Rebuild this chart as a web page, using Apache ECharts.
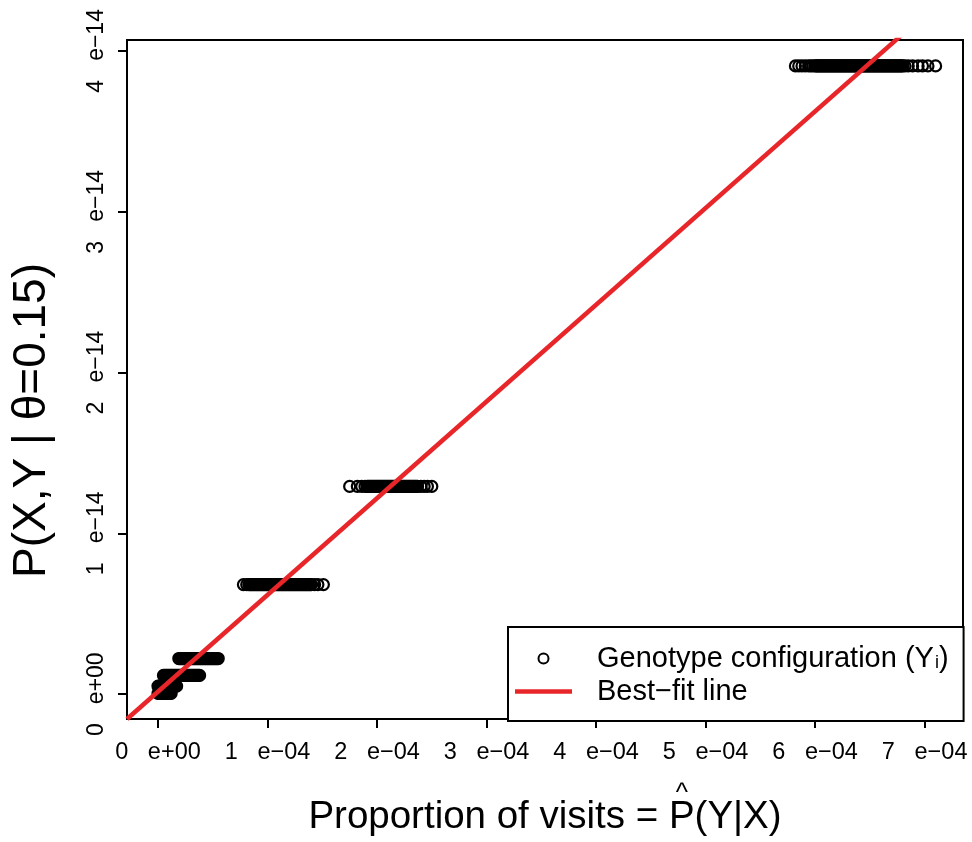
<!DOCTYPE html>
<html>
<head>
<meta charset="utf-8">
<script src="https://cdn.jsdelivr.net/npm/echarts@6/dist/echarts.min.js"></script>
<style>
  html, body { margin: 0; padding: 0; background: #fff; }
  #chart { width: 972px; height: 842px; }
</style>
</head>
<body>
<div id="chart"></div>
<script>
// Probability levels of the genotype configurations, in units of 1e-14
const levelsE14 = [3.907, 1.292, 0.682, 0.222, 0.117, 0.05, 0.005];

// Proportion of visits of each configuration at each level, in units of 1e-6
const visitsLevel1 = [582, 585, 588, 591, 594, 596, 598,
  600, 601, 602, 603, 604, 605, 606, 607, 608, 609, 610, 611, 612, 613, 614, 615, 616, 617, 618, 619,
  620, 621, 622, 623, 624, 625, 626, 627, 628, 629, 630, 631, 632, 633, 634, 635, 636, 637, 638, 639,
  640, 641, 642, 643, 644, 645, 646, 647, 648, 649, 650, 651, 652, 653, 654, 655, 656, 657, 658, 659,
  660, 661, 662, 663, 664, 665, 666, 667, 668, 669, 670, 671, 672, 673, 674, 675, 676, 677, 678, 679,
  680, 682, 685, 689, 694, 698, 703, 710];
const visitsLevel2 = [175, 182, 186, 189,
  191, 192, 193, 194, 195, 196, 197, 198, 199, 200, 201, 202, 203, 204, 205, 206, 207, 208, 209, 210,
  211, 212, 213, 214, 215, 216, 217, 218, 219, 220, 221, 222, 223, 224, 225, 226, 227, 228, 229, 230,
  231, 232, 233, 234, 235, 236, 237, 240, 243, 246, 250];
const visitsLevel3 = [78, 81,
  83, 84, 85, 86, 87, 88, 89, 90, 91, 92, 93, 94, 95, 96, 97, 98, 99, 100, 101, 102, 103, 104, 105,
  106, 107, 108, 109, 110, 111, 112, 113, 114, 115, 116, 117, 118, 119, 120, 121, 122, 123, 124, 125,
  126, 127, 128, 129, 130, 131, 132, 133, 134, 135, 136, 137, 138, 139, 140, 143, 146, 151];
const visitsLevel4 = [19, 20, 21, 22, 23, 24, 25, 26, 27, 28, 29, 30, 31, 32, 33, 34, 35, 36, 37, 38,
  39, 40, 41, 42, 43, 44, 45, 46, 47, 48, 49, 50, 51, 52, 53, 54, 55];
const visitsLevel5 = [5, 6, 7, 8, 9, 10, 11, 12, 13, 14, 15, 16, 17, 18, 19, 20, 21, 22, 23, 24, 25,
  26, 27, 28, 29, 30, 31, 32, 33, 34, 35, 36, 37, 38];
const visitsLevel6 = [0, 1, 2, 3, 4, 5, 6, 7, 8, 9, 10, 11, 12, 13, 14, 15, 16, 17];
const visitsLevel7 = [0, 1, 2, 3, 4, 5, 6, 7, 8, 9, 10, 11, 12];
const visitsByLevel = [visitsLevel1, visitsLevel2, visitsLevel3, visitsLevel4, visitsLevel5,
  visitsLevel6, visitsLevel7];

// Least-squares fit: P = slope * proportion + intercept (real units)
const fitSlope = 6.014e-11;
const fitIntercept = 1.6e-16;

// Axis ranges, in units of 1e-4 (x) and 1e-14 (y)
const xRange = [-0.283, 7.35];
const yRange = [-0.154, 4.068];

const xTicks = [0, 1, 2, 3, 4, 5, 6, 7];
const xTickLabels = ['0   e+00', '1   e\u221204', '2   e\u221204', '3   e\u221204',
  '4   e\u221204', '5   e\u221204', '6   e\u221204', '7   e\u221204'];
const yTicks = [0, 1, 2, 3, 4];
const yTickLabels = ['0   e+00', '1   e\u221214', '2   e\u221214', '3   e\u221214', '4   e\u221214'];

const seriesPoints = 'Genotype configuration (Yi)';
const seriesFit = 'Best\u2212fit line';
const xTitlePrefix = 'Proportion of visits = ';
const xTitleHatted = 'P';
const xTitleSuffix = '(Y|X)';
const yTitle = 'P(X,Y | \u03b8=0.15)';

const X_UNIT = 1e-4, Y_UNIT = 1e-14, VISIT_UNIT = 1e-6;

const points = [];
visitsByLevel.forEach((list, i) => {
  list.forEach(v => points.push([v * VISIT_UNIT / X_UNIT, levelsE14[i]]));
});

const fitAt = xu => (fitSlope * xu * X_UNIT + fitIntercept) / Y_UNIT;
const fitLine = xRange.map(xu => [xu, fitAt(xu)]);

const FONT = "'Liberation Sans', Arial, Helvetica, sans-serif";
const RED = '#e8262a';

const GRID = { left: 127, right: 9, top: 40, bottom: 119 };
const W = 972;
const X_TITLE_SIZE = 38.5;

// place the hat over the P of the x-axis title
const measure = document.createElement('canvas').getContext('2d');
measure.font = X_TITLE_SIZE + "px 'Liberation Sans', Arial, sans-serif";
const fullW = measure.measureText(xTitlePrefix + xTitleHatted + xTitleSuffix).width;
const prefixW = measure.measureText(xTitlePrefix).width;
const hatW = measure.measureText(xTitleHatted).width;
const plotCenterX = GRID.left + (W - GRID.left - GRID.right) / 2;
const hatX = plotCenterX - fullW / 2 + prefixW + hatW / 2;

function tickLabel(ticks, labels) {
  return v => {
    const i = ticks.findIndex(t => Math.abs(t - v) < 1e-6);
    return i >= 0 ? labels[i] : '';
  };
}

const chart = echarts.init(document.getElementById('chart'), null, { renderer: 'canvas' });
chart.setOption({
  animation: false,
  backgroundColor: '#fff',
  grid: Object.assign({
    show: true, borderColor: '#000', borderWidth: 2, backgroundColor: 'transparent'
  }, GRID),
  xAxis: {
    type: 'value', min: xRange[0], max: xRange[1],
    splitLine: { show: false },
    axisLine: { show: true, onZero: false, lineStyle: { color: '#000', width: 2 } },
    axisTick: { show: true, customValues: xTicks, length: 9, lineStyle: { color: '#000', width: 2 } },
    axisLabel: {
      customValues: xTicks, formatter: tickLabel(xTicks, xTickLabels),
      color: '#000', fontSize: 23.5, fontFamily: FONT, margin: 22
    },
    name: xTitlePrefix + xTitleHatted + xTitleSuffix,
    nameLocation: 'middle', nameGap: 79,
    nameTextStyle: { color: '#000', fontSize: X_TITLE_SIZE, fontFamily: FONT }
  },
  yAxis: {
    type: 'value', min: yRange[0], max: yRange[1],
    splitLine: { show: false },
    axisLine: { show: true, onZero: false, lineStyle: { color: '#000', width: 2 } },
    axisTick: { show: true, customValues: yTicks, length: 9, lineStyle: { color: '#000', width: 2 } },
    axisLabel: {
      customValues: yTicks, formatter: tickLabel(yTicks, yTickLabels),
      rotate: 90, color: '#000', fontSize: 23, fontFamily: FONT, margin: 19
    },
    name: yTitle,
    nameLocation: 'middle', nameGap: 72,
    nameTextStyle: { color: '#000', fontSize: 46, fontFamily: FONT, padding: [0, 82, 0, 0] }
  },
  legend: {
    orient: 'vertical', left: 508, top: 627,
    padding: [17, 15, 15, 7],
    borderColor: '#000', borderWidth: 2, backgroundColor: '#fff',
    itemWidth: 57, itemHeight: 10, itemGap: 4,
    selectedMode: false,
    textStyle: {
      color: '#000', fontSize: 29, fontFamily: FONT, padding: [0, 0, 0, 20],
      rich: {
        m: { color: '#000', fontSize: 29, fontFamily: FONT, lineHeight: 29 },
        s: { color: '#000', fontSize: 18, fontFamily: FONT, padding: [10, 0, 0, 1] }
      }
    },
    formatter: name => name === seriesPoints
      ? '{m|Genotype configuration (Y}{s|i}{m|)}'
      : '{m|' + name + '}',
    data: [
      { name: seriesPoints, icon: 'circle',
        itemStyle: { color: 'transparent', borderColor: '#000', borderWidth: 2 } },
      { name: seriesFit, icon: 'path://M0,0 H57 V4.5 H0 Z',
        itemStyle: { color: RED, borderWidth: 0 } }
    ]
  },
  graphic: [
    {
      type: 'text', x: hatX, y: 781, z: 10,
      style: { text: '^', fill: '#000', fontSize: 26, fontFamily: FONT, align: 'center', verticalAlign: 'top' }
    }
  ],
  series: [
    {
      name: seriesPoints, type: 'scatter', data: points,
      symbol: 'circle', symbolSize: 11,
      itemStyle: { color: 'rgba(0,0,0,0)', borderColor: '#000', borderWidth: 2.2, opacity: 1 },
      z: 2
    },
    {
      name: seriesFit, type: 'line', data: fitLine,
      symbol: 'none', clip: true,
      lineStyle: { color: RED, width: 4.5 },
      itemStyle: { color: RED },
      z: 3
    }
  ]
});
</script>
</body>
</html>
